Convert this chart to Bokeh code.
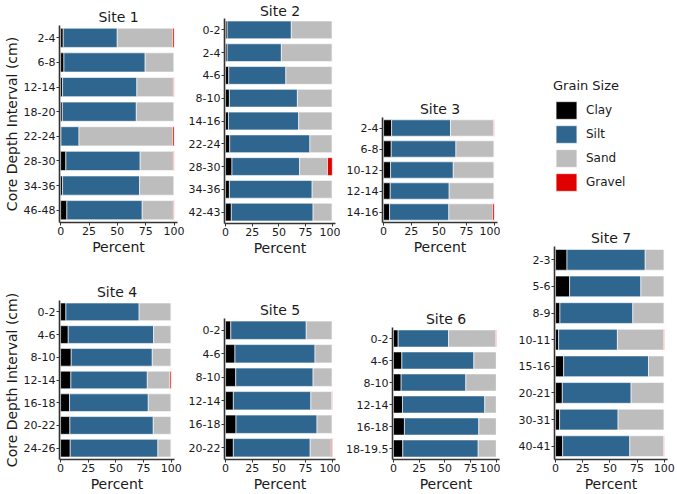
from bokeh.plotting import figure
from bokeh.models import (ColumnDataSource, FactorRange, FixedTicker, Legend, LegendItem)
from bokeh.layouts import row, column
from bokeh.embed import file_html
from bokeh.resources import INLINE

FONT = "DejaVu Sans"
FRACTIONS = ["Clay", "Silt", "Sand", "Gravel"]
COLORS = ["#000000", "#2F6690", "#BDBDBD", "#E00000"]
X_TICKS = [0, 25, 50, 75, 100]

# ---- data: percent of each grain-size fraction per core depth interval ----
site1_intervals = ["2-4", "6-8", "12-14", "18-20", "22-24", "28-30", "34-36", "46-48"]
site1_clay   = [2.3, 2.9, 1.7, 1.5, 0.3, 4.6, 1.7, 5.5]
site1_silt   = [47.6, 71.6, 65.5, 65.2, 15.9, 65.5, 67.9, 66.4]
site1_sand   = [48.7, 25.5, 32.2, 33.3, 82.4, 29.3, 30.4, 27.5]
site1_gravel = [1.4, 0.0, 0.6, 0.0, 1.4, 0.6, 0.0, 0.6]

site2_intervals = ["0-2", "2-4", "4-6", "8-10", "14-16", "22-24", "28-30", "34-36", "42-43"]
site2_clay   = [1.5, 1.5, 3.0, 3.6, 2.7, 3.9, 6.0, 3.6, 5.4]
site2_silt   = [60.1, 50.8, 53.5, 63.7, 65.8, 75.1, 63.4, 77.5, 76.6]
site2_sand   = [38.4, 47.7, 43.5, 32.7, 31.5, 21.0, 26.1, 18.9, 18.0]
site2_gravel = [0.0, 0.0, 0.0, 0.0, 0.0, 0.0, 4.5, 0.0, 0.0]

site3_intervals = ["2-4", "6-8", "10-12", "12-14", "14-16"]
site3_clay   = [7.2, 6.9, 6.3, 6.0, 5.4]
site3_silt   = [53.3, 58.5, 56.7, 53.3, 53.6]
site3_sand   = [39.2, 34.6, 37.0, 40.7, 39.5]
site3_gravel = [0.3, 0.0, 0.0, 0.0, 1.5]

site4_intervals = ["0-2", "4-6", "8-10", "12-14", "16-18", "20-22", "24-26"]
site4_clay   = [4.8, 6.9, 9.6, 9.3, 8.1, 8.4, 8.7]
site4_silt   = [66.2, 77.2, 73.3, 69.1, 71.2, 75.4, 79.3]
site4_sand   = [29.0, 15.9, 17.1, 20.4, 20.7, 16.2, 12.0]
site4_gravel = [0.0, 0.0, 0.0, 1.2, 0.0, 0.0, 0.0]

site5_intervals = ["0-2", "4-6", "8-10", "12-14", "16-18", "20-22"]
site5_clay   = [4.9, 8.8, 9.5, 7.3, 9.8, 7.3]
site5_silt   = [70.7, 75.0, 72.5, 72.6, 75.9, 72.0]
site5_sand   = [24.4, 16.2, 18.0, 19.8, 14.3, 19.8]
site5_gravel = [0.0, 0.0, 0.0, 0.3, 0.0, 0.9]

site6_intervals = ["0-2", "4-6", "8-10", "12-14", "16-18", "18-19.5"]
site6_clay   = [4.5, 8.1, 7.4, 8.7, 10.6, 9.0]
site6_silt   = [49.0, 70.0, 62.9, 80.0, 72.3, 73.3]
site6_sand   = [45.9, 21.9, 29.7, 11.3, 17.1, 17.7]
site6_gravel = [0.6, 0.0, 0.0, 0.0, 0.0, 0.0]

site7_intervals = ["2-3", "5-6", "8-9", "10-11", "15-16", "20-21", "30-31", "40-41"]
site7_clay   = [10.5, 12.9, 4.0, 2.8, 7.4, 6.2, 3.7, 6.5]
site7_silt   = [72.0, 65.6, 67.1, 54.1, 78.1, 63.3, 53.8, 61.8]
site7_sand   = [17.5, 21.5, 28.9, 42.5, 14.5, 30.5, 42.5, 31.4]
site7_gravel = [0.0, 0.0, 0.0, 0.6, 0.0, 0.0, 0.0, 0.3]

X_LABEL = "Percent"
Y_LABEL = "Core Depth Interval (cm)"
LEGEND_TITLE = "Grain Size"


def panel(title, intervals, clay, silt, sand, gravel, width, height,
          left, right, top, bottom, ylabel=None, title_standoff=2):
    src = ColumnDataSource(dict(interval=intervals, Clay=clay, Silt=silt,
                                Sand=sand, Gravel=gravel))
    p = figure(width=width, height=height, output_backend="svg",
               toolbar_location=None, x_range=(-1, 103),
               y_range=FactorRange(factors=list(reversed(intervals)), range_padding=0),
               min_border_left=left, min_border_right=right,
               min_border_top=top, min_border_bottom=bottom, frame_align=False)
    p.hbar_stack(FRACTIONS, y="interval", height=0.78, color=COLORS,
                 line_color="white", line_width=0.6, source=src)
    p.title.text = title
    p.title.text_font = FONT
    p.title.text_font_size = "14px"
    p.title.text_font_style = "normal"
    p.title.text_color = "#1a1a1a"
    p.title.align = "center"
    p.title.standoff = title_standoff
    p.title.offset = 0
    p.xgrid.visible = False
    p.ygrid.visible = False
    p.outline_line_color = None
    p.xaxis.ticker = FixedTicker(ticks=X_TICKS)
    p.xaxis.axis_label = X_LABEL
    if ylabel:
        p.yaxis.axis_label = ylabel
    for ax in (p.xaxis[0], p.yaxis[0]):
        ax.axis_line_color = "#333333"
        ax.axis_line_width = 1.6
        ax.major_tick_line_color = "#333333"
        ax.major_tick_out = 3
        ax.major_tick_in = 0
        ax.minor_tick_line_color = None
        ax.major_label_text_font = FONT
        ax.major_label_text_font_size = "11px"
        ax.major_label_text_color = "#1a1a1a"
        ax.major_label_standoff = 1
        ax.axis_label_text_font = FONT
        ax.axis_label_text_font_size = "14px"
        ax.axis_label_text_font_style = "normal"
        ax.axis_label_text_color = "#1a1a1a"
        ax.axis_label_standoff = 1
    return p


H1 = 258
H2 = 494 - H1

s1 = panel("Site 1", site1_intervals, site1_clay, site1_silt, site1_sand, site1_gravel,
           185, H1, 57, 8, 25, H1 - 222, Y_LABEL)
s2 = panel("Site 2", site2_intervals, site2_clay, site2_silt, site2_sand, site2_gravel,
           155, H1, 35, 5, 14, H1 - 229, title_standoff=0)
s3 = panel("Site 3", site3_intervals, site3_clay, site3_silt, site3_sand, site3_gravel,
           160, H1, 42, 3, 117, H1 - 222)
s4 = panel("Site 4", site4_intervals, site4_clay, site4_silt, site4_sand, site4_gravel,
           185, H2, 58, 11, 300 - H1, 494 - 462, Y_LABEL)
s5 = panel("Site 5", site5_intervals, site5_clay, site5_silt, site5_sand, site5_gravel,
           155, H2, 36, 5, 318 - H1, 494 - 462)
s6 = panel("Site 6", site6_intervals, site6_clay, site6_silt, site6_sand, site6_gravel,
           160, H2, 52, 1, 327 - H1, 494 - 462)

HL = 226
s7 = panel("Site 7", site7_intervals, site7_clay, site7_silt, site7_sand, site7_gravel,
           177, 494 - HL, 54, 10, 19, 28)

# legend panel: zero-width stacked bars only serve as legend glyph sources
lg = figure(width=177, height=HL, output_backend="svg", toolbar_location=None,
            x_range=(0, 1), y_range=(0, 1), min_border=0, frame_align=False)
lg.axis.visible = False
lg.xgrid.visible = False
lg.ygrid.visible = False
lg.outline_line_color = None
legend_src = ColumnDataSource(dict(y=[0.5], **{f: [0] for f in FRACTIONS}))
leg_renderers = lg.hbar_stack(FRACTIONS, y="y", height=0.1, color=COLORS,
                              line_color="white", line_width=0.6, source=legend_src)
items = [LegendItem(label=name, renderers=[r]) for name, r in zip(FRACTIONS, leg_renderers)]
leg = Legend(items=items, location=(53, 33), title=LEGEND_TITLE,
             glyph_width=26, glyph_height=22, label_height=22, spacing=2,
             padding=0, margin=0, border_line_color=None, background_fill_alpha=0,
             label_standoff=7, label_text_font=FONT, label_text_font_size="12px",
             label_text_color="#1a1a1a",
             title_text_font=FONT, title_text_font_size="13px",
             title_text_font_style="normal", title_text_color="#1a1a1a",
             title_standoff=6)
lg.add_layout(leg, "center")

layout = row(column(row(s1, s2, s3), row(s4, s5, s6)), column(lg, s7))

with open("out.html", "w") as f:
    f.write(file_html(layout, INLINE))
